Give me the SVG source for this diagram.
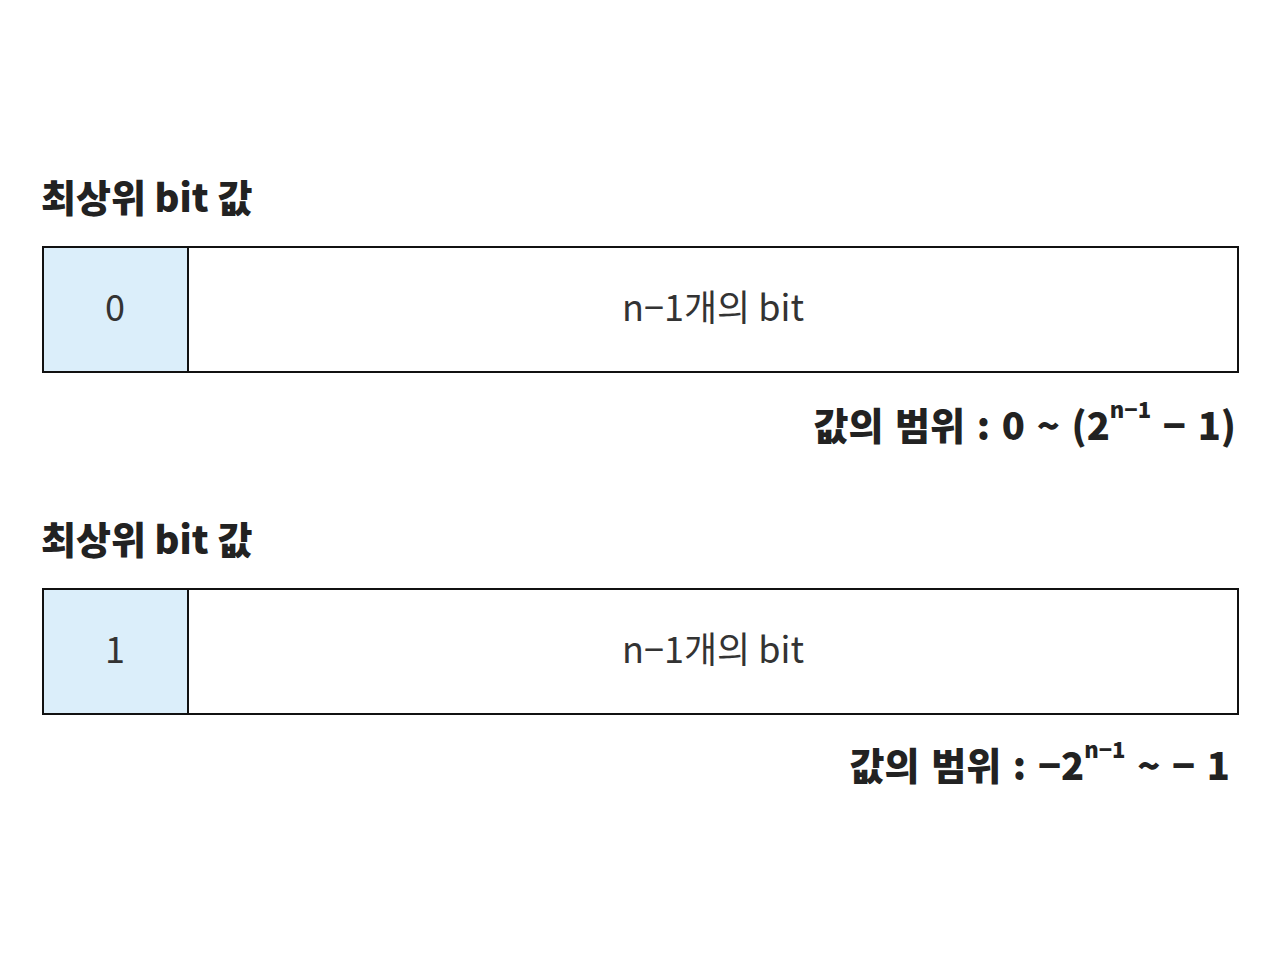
<svg xmlns="http://www.w3.org/2000/svg" width="1280" height="960" viewBox="0 0 1280 960">
<style>
.h{font-family:"Noto Sans CJK KR","Noto Sans",sans-serif;font-weight:900;font-size:38px;fill:#222;letter-spacing:0px}
.r{font-family:"Noto Sans CJK KR","Noto Sans",sans-serif;font-weight:900;font-size:38px;fill:#222;letter-spacing:0px;word-spacing:3px}
.sup{font-size:22px}
.msb{fill:#dbeefa;stroke:#111;stroke-width:2}
.rest{fill:#fff;stroke:#111;stroke-width:2}
.t{font-family:"Noto Sans CJK KR","Noto Sans",sans-serif;font-size:36px;fill:#333;text-anchor:middle;dominant-baseline:central}
</style>
<rect width="1280" height="960" fill="#fff"/>
<g id="row1">
<text class="h" x="41" y="212">최상위 bit 값</text>
<g id="msb1"><rect class="msb" x="43" y="247" width="145" height="125"/><text class="t" x="115" y="305">0</text></g>
<g id="bits1"><rect class="rest" x="188" y="247" width="1050" height="125"/><text class="t" x="713" y="305">n−1개의 bit</text></g>
<text class="r" x="1236" y="440" text-anchor="end">값의 범위 : 0 ~ (2<tspan class="sup" dy="-22">n−1</tspan><tspan dy="22"> − 1)</tspan></text>
</g>
<g id="row2">
<text class="h" x="41" y="554">최상위 bit 값</text>
<g id="msb2"><rect class="msb" x="43" y="589" width="145" height="125"/><text class="t" x="115" y="647">1</text></g>
<g id="bits2"><rect class="rest" x="188" y="589" width="1050" height="125"/><text class="t" x="713" y="647">n−1개의 bit</text></g>
<text class="r" x="1230" y="780" text-anchor="end">값의 범위 : −2<tspan class="sup" dy="-22">n−1</tspan><tspan dy="22"> ~ − 1</tspan></text>
</g>
</svg>
